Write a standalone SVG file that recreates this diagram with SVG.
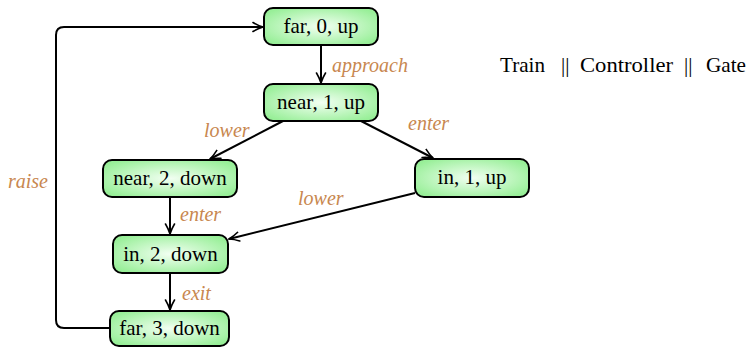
<svg xmlns="http://www.w3.org/2000/svg" width="749" height="348" viewBox="0 0 749 348" font-family="Liberation Serif, DejaVu Serif, serif">
  <defs>
    <radialGradient id="nodeFill" cx="50%" cy="50%" r="60%">
      <stop offset="0%" stop-color="#f2fff2"/>
      <stop offset="100%" stop-color="#98ef98"/>
    </radialGradient>
    <marker id="arrow" viewBox="0 0 12 12" refX="11" refY="6" markerWidth="12" markerHeight="12" markerUnits="userSpaceOnUse" orient="auto">
      <path d="M1,1.5 Q6,4.5 11,6 Q6,7.5 1,10.5" fill="none" stroke="#000" stroke-width="1.6" stroke-linecap="round"/>
    </marker>
  </defs>
  <style>
    .node rect { fill: url(#nodeFill); stroke: #000; stroke-width: 2; }
    .node text { font-size: 21px; fill: #000; text-anchor: middle; }
    .edge { fill: none; stroke: #000; stroke-width: 2; marker-end: url(#arrow); }
    .label { font-style: italic; font-size: 20px; fill: #c8874f; }
    .title text { font-size: 21px; fill: #000; }
  </style>

  <g id="connectors">
    <line class="edge" x1="321" y1="45" x2="321" y2="83"/>
    <line class="edge" x1="283" y1="121" x2="210" y2="159"/>
    <line class="edge" x1="361" y1="121" x2="433" y2="158"/>
    <line class="edge" x1="415" y1="193" x2="229" y2="239"/>
    <line class="edge" x1="170" y1="197" x2="170" y2="234"/>
    <line class="edge" x1="170" y1="273" x2="170" y2="310"/>
    <path class="edge" d="M110,328 H64 Q56,328 56,320 V35 Q56,27 64,27 H263"/>
  </g>

  <g id="labels">
    <text class="label" x="332" y="72">approach</text>
    <text class="label" x="204" y="137">lower</text>
    <text class="label" x="408" y="130">enter</text>
    <text class="label" x="298" y="205">lower</text>
    <text class="label" x="180" y="221">enter</text>
    <text class="label" x="182" y="300">exit</text>
    <text class="label" x="8" y="188">raise</text>
  </g>

  <g id="n_far0up" class="node">
    <rect x="264" y="8" width="114" height="37" rx="9"/>
    <text x="321" y="33">far, 0, up</text>
  </g>
  <g id="n_near1up" class="node">
    <rect x="264" y="84" width="114" height="37" rx="9"/>
    <text x="321" y="109">near, 1, up</text>
  </g>
  <g id="n_near2down" class="node">
    <rect x="103" y="160" width="134" height="37" rx="9"/>
    <text x="170" y="185">near, 2, down</text>
  </g>
  <g id="n_in1up" class="node">
    <rect x="415" y="159" width="114" height="38" rx="9"/>
    <text x="472" y="184">in, 1, up</text>
  </g>
  <g id="n_in2down" class="node">
    <rect x="113" y="235" width="115" height="38" rx="9"/>
    <text x="170.5" y="261">in, 2, down</text>
  </g>
  <g id="n_far3down" class="node">
    <rect x="110" y="311" width="119" height="35" rx="9"/>
    <text x="169.5" y="335">far, 3, down</text>
  </g>

  <g id="title" class="title">
    <text x="500" y="72" textLength="45" lengthAdjust="spacingAndGlyphs">Train</text>
    <text x="561" y="72">||</text>
    <text x="580" y="72" textLength="93" lengthAdjust="spacingAndGlyphs">Controller</text>
    <text x="684" y="72">||</text>
    <text x="706" y="72" textLength="40" lengthAdjust="spacingAndGlyphs">Gate</text>
  </g>
</svg>
